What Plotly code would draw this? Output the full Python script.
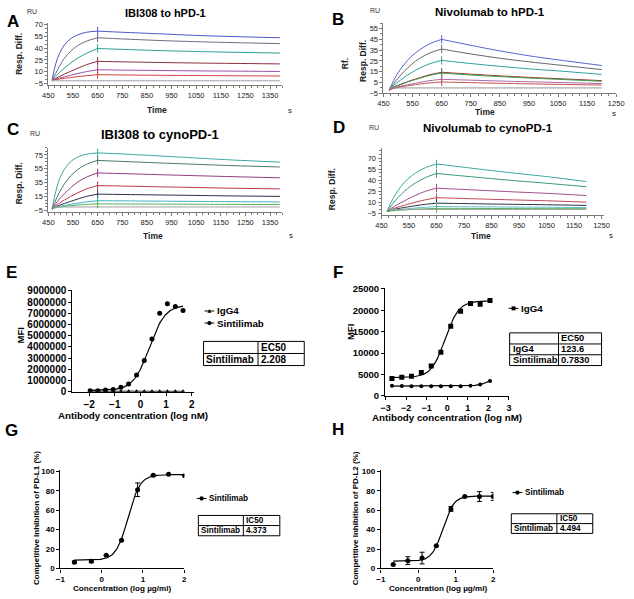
import numpy as np
import plotly.graph_objects as go

W, H = 634, 599
FONT = "Liberation Sans, Arial, sans-serif"

# ---------------- SPR sensorgrams ----------------
tA_assoc = [465, 480, 495, 515, 540, 570, 605, 650]
tA_diss = [650, 750, 900, 1050, 1200, 1390]
A_assoc = [
    [-1, 20, 33, 44, 52, 57, 60.3, 61.7],
    [-1, 8, 17, 27, 36, 43.5, 49, 53.3],
    [-1, 4, 9, 14.5, 21, 27.5, 33.5, 39.6],
    [-1, 1.5, 4, 7, 10.5, 14.5, 19, 23.3],
    [-1, 0.5, 2, 3.5, 5.5, 7.8, 10.2, 12.5],
    [-1, 0, 0.7, 1.5, 2.6, 3.8, 5, 6.25],
    [-1.5, -1.5, -1.5, -1.5, -1.5, -1.5, -1.5, -1.5],
]
A_diss = [
    [61.7, 60.3, 58.3, 56.3, 54.8, 53.3],
    [53.3, 51.8, 49.8, 48.3, 47.1, 45.8],
    [39.6, 38.5, 37, 35.8, 34.8, 33.8],
    [23.3, 22.6, 21.8, 21.1, 20.6, 20],
    [12.5, 12.1, 11.6, 11.1, 10.8, 10.4],
    [6.25, 5.9, 5.5, 5.2, 4.9, 4.6],
    [-1.5, -1.5, -1.5, -1.5, -1.5, -1.5],
]
A_colors = ['#4a58c8', '#6e6a80', '#2e9e8e', '#8b2e3a', '#9b4ea5', '#d04040', '#9aa0b0']

tB_assoc = [470, 485, 500, 520, 545, 575, 610, 650]
tB_diss = [650, 750, 850, 950, 1050, 1200]
B_assoc = [
    [-2, 7, 14, 21.5, 29, 35.5, 41, 45],
    [-2, 4, 9, 15, 21.5, 27.5, 32.5, 36],
    [-2, 2.5, 5.5, 9.5, 14, 18.5, 22.5, 25.5],
    [-2, 1, 2.5, 4.5, 7, 9.5, 12.3, 14.5],
    [-2, 0.8, 2.2, 4.2, 6.6, 9, 11.7, 13.8],
    [-2, 0, 1, 2.2, 3.6, 5.2, 6.8, 8],
    [-2, -0.5, 0.5, 1.5, 2.5, 3.6, 4.7, 5.5],
    [0, 0, 0, 0, 0, 0, 0, 0],
]
B_diss = [
    [45, 39.5, 34.3, 29.8, 26, 20.8],
    [36, 31.5, 27.5, 24.2, 21.3, 17],
    [25.5, 22.6, 20, 17.7, 15.8, 12.5],
    [14.5, 12.8, 11.2, 9.8, 8.6, 6.8],
    [13.8, 12, 10.5, 9.2, 8, 6.2],
    [8, 7.2, 6.4, 5.7, 5.1, 4.1],
    [5.5, 4.9, 4.3, 3.8, 3.3, 2.7],
    [0, 0, 0, 0, 0, 0],
]
B_colors = ['#5565d0', '#666670', '#2fa0a0', '#a03030', '#3a9a4a', '#a868a8', '#c85050', '#909090']

tC_assoc = [465, 480, 495, 515, 540, 570, 605, 650]
tC_diss = [650, 750, 900, 1050, 1200, 1390]
C_assoc = [
    [-3, 22, 40, 54, 65, 72, 76, 77.8],
    [-3, 10, 21, 33, 44.5, 54, 61.5, 67],
    [-3, 5, 11.5, 19, 27.5, 36, 43, 49],
    [-3, 2, 5.5, 10, 15, 20.5, 26, 30.8],
    [-3, 0.5, 2.5, 5, 8, 11.5, 15.2, 18.5],
    [-3, -0.5, 0.8, 2.2, 3.8, 5.5, 7.3, 9],
    [-3, -1, -0.2, 0.8, 1.8, 2.8, 3.7, 4.4],
    [0, 0, 0, 0, 0, 0, 0, 0],
]
C_diss = [
    [77.8, 76.3, 73.5, 70.5, 67.6, 64.6],
    [67, 65.6, 63.4, 61.4, 59.5, 57.6],
    [49, 48, 46.5, 45, 43.6, 42],
    [30.8, 30.1, 29, 28, 27, 26],
    [18.5, 18, 17.3, 16.6, 15.9, 15.2],
    [9, 8.8, 8.4, 8, 7.6, 7.2],
    [4.4, 4.3, 4.1, 3.9, 3.7, 3.5],
    [0, 0, 0, 0, 0, 0],
]
C_colors = ['#3aa8a0', '#4a7868', '#8e3a80', '#b83848', '#2c2c50', '#40b4c4', '#58b058', '#a0a0a0']

tD_assoc = [470, 485, 500, 520, 545, 575, 610, 650]
tD_diss = [650, 750, 850, 950, 1050, 1195]
D_assoc = [
    [-3, 10, 20, 31, 41.5, 50, 57, 62],
    [-3, 5, 12, 20, 28.5, 36.5, 43.5, 49],
    [-3, 1.5, 5, 9, 14, 19.5, 24.8, 29],
    [-3, 0, 2, 4.2, 7, 10, 13.2, 16],
    [-3, -1, 0.3, 1.8, 3.4, 5.2, 7, 8.5],
    [-3, -1.5, -0.8, 0, 1, 2, 3, 4],
    [-3, -2, -1.5, -1, -0.4, 0.3, 0.9, 1.5],
    [0, 0, 0, 0, 0, 0, 0, 0],
]
D_diss = [
    [62, 57.5, 53, 48.8, 44.8, 38],
    [49, 45.5, 42, 38.8, 35.7, 31],
    [29, 27.2, 25.4, 23.6, 22, 19],
    [16, 14.9, 13.8, 12.8, 11.8, 10],
    [8.5, 8, 7.4, 6.9, 6.4, 5.5],
    [4, 3.7, 3.5, 3.2, 3, 2.5],
    [1.5, 1.4, 1.3, 1.2, 1.1, 1],
    [0, 0, 0, 0, 0, 0],
]
D_colors = ['#3aa8a0', '#3a9a70', '#a04c8c', '#c04858', '#303048', '#5ec0c8', '#58b058', '#a0a0a0']

# ---------------- E / F : binding (MFI) ----------------
E_x = [-1.96, -1.66, -1.36, -1.06, -0.76, -0.46, -0.15, 0.15, 0.45, 0.75, 1.05, 1.36, 1.66]
E_sin = [0.10e6, 0.10e6, 0.15e6, 0.20e6, 0.40e6, 0.70e6, 1.50e6, 2.80e6, 4.70e6, 7.00e6, 7.85e6, 7.60e6, 7.25e6]
E_igg = [0.04e6, 0.05e6, 0.04e6, 0.05e6, 0.04e6, 0.04e6, 0.05e6, 0.04e6, 0.04e6, 0.05e6, 0.04e6, 0.05e6, 0.04e6]
E_sin_fit = dict(bottom=0.12e6, top=7.75e6, ec50=2.208, hill=1.4)

F_x = [-2.69, -2.21, -1.74, -1.26, -0.78, -0.31, 0.17, 0.65, 1.13, 1.60, 2.08]
F_sin = [4100, 4400, 4600, 5500, 7000, 10200, 16300, 19800, 21600, 21400, 22300]
F_igg = [2400, 2350, 2300, 2300, 2300, 2300, 2250, 2300, 2400, 2700, 3500]
F_sin_fit = dict(bottom=4300, top=22200, ec50=0.7830, hill=1.3)
F_igg_fit = dict(bottom=2300, top=4800, ec50=123.6, hill=1.5)

# ---------------- G / H : competitive inhibition ----------------
G_x = [-0.66, -0.25, 0.11, 0.48, 0.87, 1.25, 1.62, 2.01]
G_y = [6.5, 7.5, 13.5, 29, 81, 96, 97, 95.5]
G_err = [1.2, 1.5, 0, 0, 7, 0, 0, 0]
G_fit = dict(bottom=8.5, top=96.5, ec50=4.373, hill=3.0)

H_x = [-0.67, -0.28, 0.10, 0.48, 0.87, 1.24, 1.63, 2.00]
H_y = [4, 8, 10.7, 23.3, 61.3, 74, 74, 74]
H_err = [0, 4, 6, 0, 2.5, 0, 5, 4]
H_fit = dict(bottom=7.5, top=74.5, ec50=4.494, hill=3.0)


def four_pl(xs, p):
    xs = np.asarray(xs)
    return p['bottom'] + (p['top'] - p['bottom']) / (1 + 10 ** ((np.log10(p['ec50']) - xs) * p['hill']))


def X(px):
    return px / W


def Y(py):
    return 1 - py / H


def dom_x(a, b):
    return [X(a), X(b)]


def dom_y(top, bottom):
    return [Y(bottom), Y(top)]


fig = go.Figure()


def spr_panel(n, t_assoc, t_diss, assoc, diss, colors):
    xa = 'x' if n == 1 else f'x{n}'
    ya = 'y' if n == 1 else f'y{n}'
    for a, d, c in zip(assoc, diss, colors):
        fig.add_trace(go.Scatter(x=t_assoc, y=a, mode='lines', xaxis=xa, yaxis=ya,
                                 line=dict(color=c, width=1, shape='spline', smoothing=1.0),
                                 showlegend=False, hoverinfo='skip'))
        fig.add_trace(go.Scatter(x=t_diss, y=d, mode='lines', xaxis=xa, yaxis=ya,
                                 line=dict(color=c, width=1, shape='spline', smoothing=0.8),
                                 showlegend=False, hoverinfo='skip'))
    # report-point marks at end of injection
    fig.add_trace(go.Scatter(x=[t_diss[0]] * (len(diss) - 1), y=[d[0] for d in diss[:-1]],
                             mode='markers', xaxis=xa, yaxis=ya,
                             marker=dict(symbol='line-ns', size=6,
                                         line=dict(color=colors[:-1], width=1)),
                             showlegend=False, hoverinfo='skip'))


spr_panel(1, tA_assoc, tA_diss, A_assoc, A_diss, A_colors)
spr_panel(2, tB_assoc, tB_diss, B_assoc, B_diss, B_colors)
spr_panel(3, tC_assoc, tC_diss, C_assoc, C_diss, C_colors)
spr_panel(4, tD_assoc, tD_diss, D_assoc, D_diss, D_colors)

# E
xfE = np.linspace(E_x[0], E_x[-1], 200)
fig.add_trace(go.Scatter(x=E_x, y=E_igg, mode='lines+markers', xaxis='x5', yaxis='y5',
                         marker=dict(symbol='triangle-up', size=4, color='black'),
                         line=dict(color='black', width=1), showlegend=False))
fig.add_trace(go.Scatter(x=xfE, y=four_pl(xfE, E_sin_fit), mode='lines', xaxis='x5', yaxis='y5',
                         line=dict(color='black', width=1.2), showlegend=False))
fig.add_trace(go.Scatter(x=E_x, y=E_sin, mode='markers', xaxis='x5', yaxis='y5',
                         marker=dict(symbol='circle', size=5, color='black'), showlegend=False))
# F
xfF = np.linspace(F_x[0], F_x[-1], 200)
fig.add_trace(go.Scatter(x=xfF, y=four_pl(xfF, F_igg_fit), mode='lines', xaxis='x6', yaxis='y6',
                         line=dict(color='black', width=1.2), showlegend=False))
fig.add_trace(go.Scatter(x=F_x, y=F_igg, mode='markers', xaxis='x6', yaxis='y6',
                         marker=dict(symbol='circle', size=4, color='black'), showlegend=False))
fig.add_trace(go.Scatter(x=xfF, y=four_pl(xfF, F_sin_fit), mode='lines', xaxis='x6', yaxis='y6',
                         line=dict(color='black', width=1.2), showlegend=False))
fig.add_trace(go.Scatter(x=F_x, y=F_sin, mode='markers', xaxis='x6', yaxis='y6',
                         marker=dict(symbol='square', size=5, color='black'), showlegend=False))
# G
xfG = np.linspace(G_x[0], G_x[-1], 200)
fig.add_trace(go.Scatter(x=xfG, y=four_pl(xfG, G_fit), mode='lines', xaxis='x7', yaxis='y7',
                         line=dict(color='black', width=1.2), showlegend=False))
fig.add_trace(go.Scatter(x=G_x, y=G_y, mode='markers', xaxis='x7', yaxis='y7',
                         error_y=dict(type='data', array=G_err, color='black', thickness=1, width=2.5),
                         marker=dict(symbol='circle', size=5, color='black'), showlegend=False))
# H
xfH = np.linspace(H_x[0], H_x[-1], 200)
fig.add_trace(go.Scatter(x=xfH, y=four_pl(xfH, H_fit), mode='lines', xaxis='x8', yaxis='y8',
                         line=dict(color='black', width=1.2), showlegend=False))
fig.add_trace(go.Scatter(x=H_x, y=H_y, mode='markers', xaxis='x8', yaxis='y8',
                         error_y=dict(type='data', array=H_err, color='black', thickness=1, width=2.5),
                         marker=dict(symbol='circle', size=5, color='black'), showlegend=False))

# ---------------- axes ----------------
GRAY = '#7a7a7a'
spr_ax = dict(showline=True, linecolor=GRAY, linewidth=1, ticks='outside', ticklen=3, tickwidth=1,
              tickcolor=GRAY, showgrid=False, zeroline=False,
              tickfont=dict(family=FONT, size=7.5, color='#222'))
spr_minor = dict(ticks='outside', ticklen=2, tickcolor=GRAY, dtick=25)
spr_minor_y = dict(ticks='outside', ticklen=2, tickcolor=GRAY, dtick=5)

bold_ax = dict(showline=True, linecolor='black', linewidth=1.2, ticks='outside', ticklen=3, tickwidth=1.2,
               tickcolor='black', showgrid=False, zeroline=False)


def bfont(size):
    return dict(family=FONT, size=size, color='black', weight='bold')


layout = dict(
    width=W, height=H, margin=dict(l=0, r=0, t=0, b=0),
    paper_bgcolor='white', plot_bgcolor='white', showlegend=False,
    # A
    xaxis=dict(spr_ax, domain=dom_x(43.3, 282.6), range=[450, 1400], tick0=450, dtick=100, anchor='y', minor=spr_minor),
    yaxis=dict(spr_ax, domain=dom_y(18.4, 81.6), range=[-7, 72], tick0=-5, dtick=15, anchor='x', minor=spr_minor_y),
    # B
    xaxis2=dict(spr_ax, domain=dom_x(386, 624), range=[450, 1250], tick0=450, dtick=100, anchor='y2', minor=spr_minor),
    yaxis2=dict(spr_ax, domain=dom_y(18.5, 90), range=[-5, 60], tick0=-5, dtick=10, anchor='x2', minor=spr_minor_y),
    # C
    xaxis3=dict(spr_ax, domain=dom_x(43.3, 282.6), range=[450, 1400], tick0=450, dtick=100, anchor='y3', minor=spr_minor),
    yaxis3=dict(spr_ax, domain=dom_y(145.6, 210.7), range=[-7, 85], tick0=-5, dtick=20, anchor='x3', minor=spr_minor_y),
    # D
    xaxis4=dict(spr_ax, domain=dom_x(384, 611.8), range=[450, 1260], tick0=450, dtick=100, anchor='y4', minor=spr_minor),
    yaxis4=dict(spr_ax, domain=dom_y(145.5, 213.5), range=[-7, 84], tick0=-5, dtick=15, anchor='x4', minor=spr_minor_y),
    # E
    xaxis5=dict(bold_ax, domain=dom_x(67.9, 191.8), range=[-2.65, 2.07], tickvals=[-2, -1, 0, 1, 2],
                anchor='y5', tickfont=bfont(10)),
    yaxis5=dict(bold_ax, domain=dom_y(290.7, 394), range=[0, 9.05e6],
                tickvals=[i * 1e6 for i in range(10)], ticktext=[str(i * 1000000) for i in range(10)],
                anchor='x5', tickfont=bfont(10)),
    # F
    xaxis6=dict(bold_ax, domain=dom_x(387.7, 514.3), range=[-3.02, 3], tickvals=[-3, -2, -1, 0, 1, 2, 3],
                anchor='y6', tickfont=bfont(9)),
    yaxis6=dict(bold_ax, domain=dom_y(288.3, 398.3), range=[0, 25200],
                tickvals=[0, 5000, 10000, 15000, 20000, 25000],
                ticktext=['0', '5000', '10000', '15000', '20000', '25000'],
                anchor='x6', tickfont=bfont(9.5)),
    # G
    xaxis7=dict(bold_ax, domain=dom_x(55.6, 182.3), range=[-1, 2], tickvals=[-1, 0, 1, 2],
                anchor='y7', tickfont=bfont(8)),
    yaxis7=dict(bold_ax, domain=dom_y(474, 574), range=[0, 101], tickvals=[0, 20, 40, 60, 80, 100],
                anchor='x7', tickfont=bfont(8)),
    # H
    xaxis8=dict(bold_ax, domain=dom_x(383.3, 498.3), range=[-1, 2], tickvals=[-1, 0, 1, 2],
                anchor='y8', tickfont=bfont(8)),
    yaxis8=dict(bold_ax, domain=dom_y(474, 574), range=[0, 101], tickvals=[0, 20, 40, 60, 80, 100],
                anchor='x8', tickfont=bfont(8)),
)

ann = []
shapes = []


def text(x, y, s, size, bold=False, xanchor='center', yanchor='middle', angle=0, color='black'):
    ann.append(dict(x=X(x), y=Y(y), xref='paper', yref='paper', text=s, showarrow=False,
                    xanchor=xanchor, yanchor=yanchor, textangle=angle, borderpad=0,
                    font=dict(family=FONT, size=size, color=color, weight='bold' if bold else 'normal')))


# panel letters
for L, (lx, ly) in zip('ABCDEFGH', [(7, 17), (340, 15), (7, 127), (341, 125),
                                     (6, 273), (339, 273), (6, 433), (340, 432)]):
    text(lx, ly, L, 17, bold=True)

# SPR titles & labels
text(163, 8, 'IBI308 to hPD-1', 11, bold=True)
text(495, 7, 'Nivolumab to hPD-1', 11.5, bold=True)
text(157, 132, 'IBI308 to cynoPD-1', 13, bold=True)
text(493, 125, 'Nivolumab to cynoPD-1', 11.5, bold=True)
for (rx, ry) in [(27, 7), (377, 6), (30, 131), (376, 125)]:
    text(rx, ry, 'RU', 7, color='#333')
for (rx, ry) in [(13, 50), (365, 57), (13, 182), (333, 188)]:
    text(rx, ry, 'Resp. Diff.', 8.5, bold=True, angle=-90, color='#222')
text(347, 60, 'Rf.', 8.5, bold=True, angle=-90, color='#222')
for (tx, ty) in [(154, 107), (490, 109), (150, 235), (486, 235)]:
    text(tx, ty, 'Time', 8.5, bold=True, color='#222')
for (sx, sy) in [(290, 107), (622, 111), (291, 235), (619, 235)]:
    text(sx, sy, 's', 8, color='#222')

# E-H axis titles
text(15, 337, 'MFI', 9.5, bold=True, angle=-90)
text(353, 333, 'MFI', 9.5, bold=True, angle=-90)
text(130, 418, 'Antibody concentration (log nM)', 9.75, bold=True)
text(451, 420, 'Antibody concentration (log nM)', 9.75, bold=True)
text(118.7, 594, 'Concentration (log µg/ml)', 8.1, bold=True)
text(441.7, 594, 'Concentration (log µg/ml)', 8.1, bold=True)
text(31.7, 522.5, 'Competitive Inhibition of PD-L1 (%)', 8, bold=True, angle=-90)
text(358.3, 522.5, 'Competitive Inhibition of PD-L2 (%)', 8, bold=True, angle=-90)


def legend_item(xc, yc, symbol, label, size):
    shapes.append(dict(type='line', xref='paper', yref='paper', x0=X(xc - 5), x1=X(xc + 5),
                       y0=Y(yc), y1=Y(yc), line=dict(color='black', width=1)))
    r = 2.2
    if symbol == 'circle':
        shapes.append(dict(type='circle', xref='paper', yref='paper', x0=X(xc - r), x1=X(xc + r),
                           y0=Y(yc + r), y1=Y(yc - r), fillcolor='black', line=dict(width=0)))
    elif symbol == 'square':
        shapes.append(dict(type='rect', xref='paper', yref='paper', x0=X(xc - 2), x1=X(xc + 2),
                           y0=Y(yc + 2), y1=Y(yc - 2), fillcolor='black', line=dict(width=0)))
    else:
        shapes.append(dict(type='path', xref='paper', yref='paper',
                           path=f'M {X(xc-2)} {Y(yc+1.8)} L {X(xc+2)} {Y(yc+1.8)} L {X(xc)} {Y(yc-2)} Z',
                           fillcolor='black', line=dict(width=0)))
    text(xc + 7, yc, label, size, bold=True, xanchor='left')


legend_item(208, 311.7, 'triangle', 'IgG4', 9.8)
legend_item(208, 324, 'circle', 'Sintilimab', 9.8)
legend_item(519, 309, 'square', 'IgG4', 9.8)
legend_item(200, 502.7, 'circle', 'Sintilimab', 8.2)
legend_item(523, 496.7, 'circle', 'Sintilimab', 8.2)


def table(cols, rows, cells, size):
    shapes.append(dict(type='rect', xref='paper', yref='paper', x0=X(cols[0]), x1=X(cols[-1]),
                       y0=Y(rows[-1]), y1=Y(rows[0]), line=dict(color='black', width=1)))
    for cx in cols[1:-1]:
        shapes.append(dict(type='line', xref='paper', yref='paper', x0=X(cx), x1=X(cx),
                           y0=Y(rows[-1]), y1=Y(rows[0]), line=dict(color='black', width=1)))
    for ry in rows[1:-1]:
        shapes.append(dict(type='line', xref='paper', yref='paper', x0=X(cols[0]), x1=X(cols[-1]),
                           y0=Y(ry), y1=Y(ry), line=dict(color='black', width=1)))
    for i, row in enumerate(cells):
        yc = (rows[i] + rows[i + 1]) / 2
        for j, s in enumerate(row):
            if s:
                text(cols[j] + 2, yc, s, size, bold=True, xanchor='left')


table([202, 257.7, 305], [342.7, 355, 367.3], [['', 'EC50'], ['Sintilimab', '2.208']], 10)
table([515, 565, 609], [334, 345.3, 356.3, 367.3],
      [['', 'EC50'], ['IgG4', '123.6'], ['Sintilimab', '0.7830']], 9.3)
table([196.7, 242.7, 280], [520, 530.3, 540.7], [['', 'IC50'], ['Sintilimab', '4.373']], 8.2)
table([516.7, 563.3, 600], [518.3, 528.3, 538.3], [['', 'IC50'], ['Sintilimab', '4.494']], 8.2)

layout['annotations'] = ann
layout['shapes'] = shapes
fig.update_layout(**layout)
fig.write_html("out.html", config={'displayModeBar': False},
               post_script="document.body.style.margin='0px';")
